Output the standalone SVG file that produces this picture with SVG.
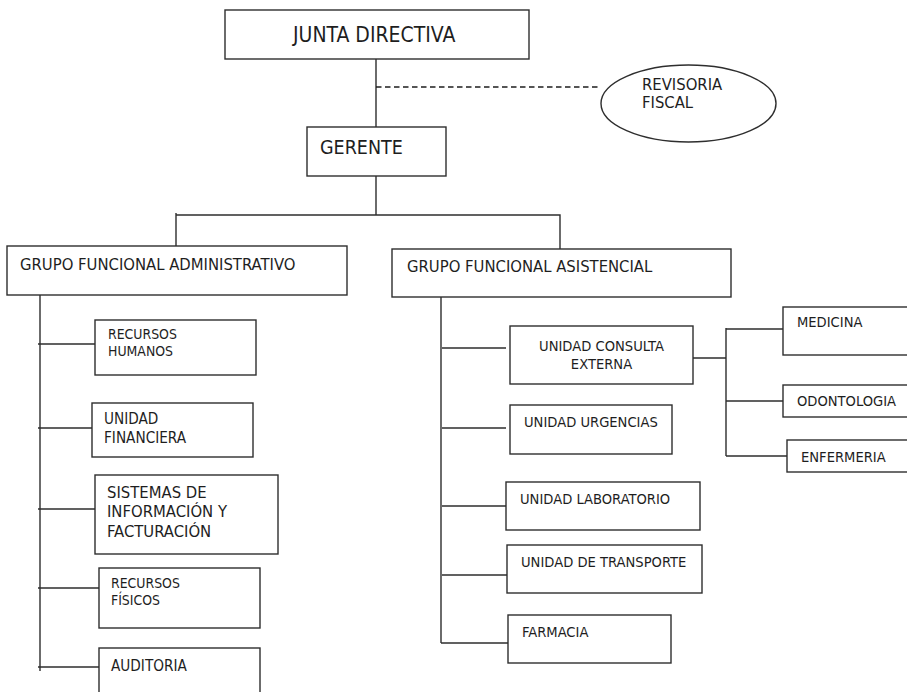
<svg xmlns="http://www.w3.org/2000/svg" width="907" height="692" viewBox="0 0 907 692">
<style>
.box{fill:#fff;stroke:#2e2e2e;stroke-width:1.4}
.ln{fill:none;stroke:#2e2e2e;stroke-width:1.4}
.dash{fill:none;stroke:#1e1e1e;stroke-width:1.3;stroke-dasharray:5.5,3.5}
text{font-family:'DejaVu Sans Condensed','DejaVu Sans',sans-serif;font-stretch:condensed;fill:#1e1e1e;font-size:14.6px}
.t21{font-size:21px}.t19{font-size:19.5px}.t16{font-size:16.5px}.t15{font-size:15.2px}.t14{font-size:13.9px}
</style>
<rect width="907" height="692" fill="#fff"/>
<g id="connectors">
<path class="ln" d="M376 59V127M376 176V215M176 213V246M176 215H560V249"/>
<path class="dash" d="M376 87H600"/>
<path class="ln" d="M40 295V671M38 344H95M38 428H92M38 509H95M38 588H99M38 667H99"/>
<path class="ln" d="M441 297V643M442 348H506M442 428H506M442 506H506M442 575H507M441 643H508"/>
<path class="ln" d="M693 358H726M726 328V456M726 329H783M726 401H783M726 456H787"/>
</g>
<g id="junta"><rect class="box" x="225" y="10" width="304" height="49"/><text class="t21" x="293" y="42">JUNTA DIRECTIVA</text></g>
<g id="revisoria"><ellipse class="box" cx="688.5" cy="103.5" rx="87.5" ry="38.5"/><text class="t16" x="642" y="90">REVISORIA</text><text class="t16" x="642" y="108">FISCAL</text></g>
<g id="gerente"><rect class="box" x="307" y="127" width="139" height="49"/><text class="t19" x="320" y="154">GERENTE</text></g>
<g id="gf-admin"><rect class="box" x="7" y="246" width="340" height="49"/><text class="t16" x="20" y="270">GRUPO FUNCIONAL ADMINISTRATIVO</text></g>
<g id="gf-asis"><rect class="box" x="392" y="249" width="339" height="48"/><text class="t16" x="407" y="272">GRUPO FUNCIONAL ASISTENCIAL</text></g>
<g id="rrhh"><rect class="box" x="95" y="320" width="161" height="55"/><text class="t14" x="108" y="339">RECURSOS</text><text class="t14" x="108" y="355.5">HUMANOS</text></g>
<g id="financiera"><rect class="box" x="92" y="403" width="161" height="54"/><text class="t15" x="104" y="424">UNIDAD</text><text class="t15" x="104" y="443">FINANCIERA</text></g>
<g id="sistemas"><rect class="box" x="95" y="475" width="183" height="79"/><text class="t16" x="107" y="498">SISTEMAS DE</text><text class="t16" x="107" y="517">INFORMACIÓN Y</text><text class="t16" x="107" y="537">FACTURACIÓN</text></g>
<g id="fisicos"><rect class="box" x="99" y="568" width="161" height="60"/><text class="t14" x="111" y="588">RECURSOS</text><text class="t14" x="111" y="604.5">FÍSICOS</text></g>
<g id="auditoria"><rect class="box" x="99" y="648" width="161" height="60"/><text class="t15" x="111" y="671">AUDITORIA</text></g>
<g id="consulta"><rect class="box" x="510" y="326" width="183" height="58"/><text x="601.5" y="351" text-anchor="middle">UNIDAD CONSULTA</text><text x="601.5" y="369" text-anchor="middle">EXTERNA</text></g>
<g id="urgencias"><rect class="box" x="510" y="405" width="162" height="49"/><text x="524" y="427">UNIDAD URGENCIAS</text></g>
<g id="laboratorio"><rect class="box" x="506" y="482" width="194" height="48"/><text x="520" y="504">UNIDAD LABORATORIO</text></g>
<g id="transporte"><rect class="box" x="507" y="545" width="195" height="48"/><text x="521" y="567">UNIDAD DE TRANSPORTE</text></g>
<g id="farmacia"><rect class="box" x="508" y="615" width="163" height="48"/><text x="522" y="637">FARMACIA</text></g>
<g id="medicina"><rect class="box" x="783" y="307" width="140" height="48"/><text x="797" y="327">MEDICINA</text></g>
<g id="odontologia"><rect class="box" x="783" y="385" width="140" height="32"/><text x="797" y="406">ODONTOLOGIA</text></g>
<g id="enfermeria"><rect class="box" x="787" y="440" width="140" height="32"/><text x="801" y="462">ENFERMERIA</text></g>
</svg>
